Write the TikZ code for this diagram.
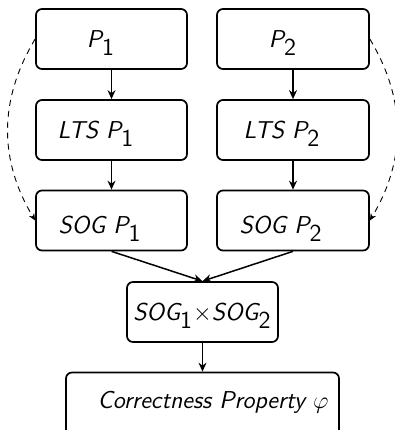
\documentclass[tikz,border=0pt]{standalone}
\usepackage{fontspec}
\usetikzlibrary{arrows.meta}
\tikzset{
  box/.style={draw, line width=0.85pt, rounded corners=3pt, minimum height=30pt, inner sep=0pt},
  lbl/.style={anchor=base, inner sep=0pt, font=\fontsize{12.2}{14}\selectfont\sffamily\itshape},
  arr/.style={line width=0.75pt, -{Stealth[length=4.5pt,width=4pt]}},
  darr/.style={line width=0.45pt, dashed, dash pattern=on 3pt off 2.5pt, -{Stealth[length=3.5pt,width=3pt]}}
}
\newcommand{\sub}[1]{$_{\textup{\textsf{#1}}}$}
\begin{document}
\begin{tikzpicture}[x=0.5pt,y=-0.5pt]
\useasboundingbox (0,0) rectangle (395,430);
\begin{scope}
\clip (0,0) rectangle (395,430);
\node[box, minimum width=75.5pt] (P1) at (111.5,39) {};
\node[box, minimum width=76pt] (P2) at (293,39) {};
\node[box, minimum width=75.5pt] (L1) at (111.5,130) {};
\node[box, minimum width=76pt] (L2) at (293,130) {};
\node[box, minimum width=75.5pt] (S1) at (111.5,220.5) {};
\node[box, minimum width=76pt] (S2) at (293,220.5) {};
\node[box, minimum width=75.5pt] (X) at (202.5,312) {};
\node[box, minimum width=136.5pt, minimum height=35pt] (C) at (202.5,407.5) {};
\end{scope}
\node[lbl] (tP1) at (101,47) {P\sub{1}};
\node[lbl] (tP2) at (283,47) {P\sub{2}};
\node[lbl] (tL1) at (96,138) {LTS P\sub{1}};
\node[lbl] (tL2) at (282,138) {LTS P\sub{2}};
\node[lbl] (tS1) at (100,233) {SOG P\sub{1}};
\node[lbl] (tS2) at (281,233) {SOG P\sub{2}};
\node[lbl] (tX) at (202.5,320) {SOG\sub{1}$\times$SOG\sub{2}};
\node[lbl] (tC) at (213,408) {Correctness Property $\varphi$};
\draw[arr] (P1) -- (L1);
\draw[arr] (L1) -- (S1);
\draw[arr] (P2) -- (L2);
\draw[arr] (L2) -- (S2);
\draw[arr] (S1.south) -- (X.north);
\draw[arr] (S2.south) -- (X.north);
\draw[arr] (X) -- (C.north);
\draw[darr] (P1.west) to[bend right=31] (S1.west);
\draw[darr] (P2.east) to[bend left=31] (S2.east);
\end{tikzpicture}
\end{document}
